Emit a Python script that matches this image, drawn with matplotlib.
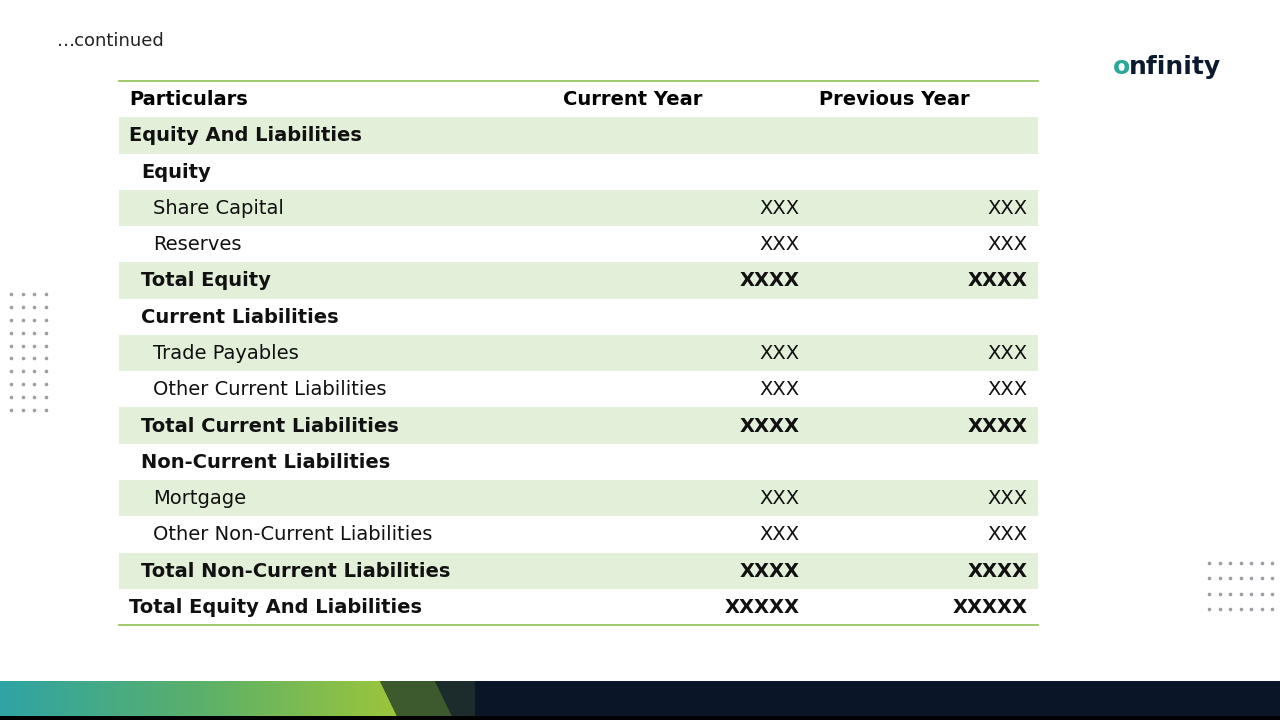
import matplotlib.pyplot as plt
from matplotlib.patches import Rectangle, Polygon
from matplotlib.colors import LinearSegmentedColormap
import numpy as np

plt.rcParams['font.family'] = ['DejaVu Sans']

headers = ["Particulars", "Current Year", "Previous Year"]
labels = ["Equity And Liabilities", "Equity", "Share Capital", "Reserves", "Total Equity",
          "Current Liabilities", "Trade Payables", "Other Current Liabilities",
          "Total Current Liabilities", "Non-Current Liabilities", "Mortgage",
          "Other Non-Current Liabilities", "Total Non-Current Liabilities",
          "Total Equity And Liabilities"]
current = ["", "", "XXX", "XXX", "XXXX", "", "XXX", "XXX", "XXXX", "", "XXX", "XXX", "XXXX", "XXXXX"]
previous = ["", "", "XXX", "XXX", "XXXX", "", "XXX", "XXX", "XXXX", "", "XXX", "XXX", "XXXX", "XXXXX"]
indent = [0, 1, 2, 2, 1, 1, 2, 2, 1, 1, 2, 2, 1, 0]
bold = [True, True, False, False, True, True, False, False, True, True, False, False, True, True]
shaded = [True, False, True, False, True, False, True, False, True, False, True, False, True, False]

fig = plt.figure(figsize=(12.8, 7.2), dpi=100)
ax = fig.add_axes([0, 0, 1, 1])
ax.set_xlim(0, 1280)
ax.set_ylim(720, 0)
ax.axis('off')

ax.text(57, 41, "…continued", fontsize=13, va='center', color='#222222')

left, right, top, rh = 119, 1038, 81, 36.27
green_line = '#8cc152'
fill = '#e2f0d9'
fs = 14
ax.plot([left, right], [top, top], color=green_line, lw=1.2)
y = top + rh / 2 + 0.5
ax.text(129, y, headers[0], fontsize=fs, fontweight='bold', va='center')
ax.text(563, y, headers[1], fontsize=fs, fontweight='bold', va='center')
ax.text(819, y, headers[2], fontsize=fs, fontweight='bold', va='center')

for i, lab in enumerate(labels):
    y0 = top + rh * (i + 1)
    if shaded[i]:
        ax.add_patch(Rectangle((left, y0), right - left, rh, color=fill, lw=0))
    yc = y0 + rh / 2 + 0.5
    w = 'bold' if bold[i] else 'normal'
    ax.text(129 + 12 * indent[i], yc, lab, fontsize=fs, fontweight=w, va='center', color='#111111')
    ax.text(800, yc, current[i], fontsize=fs, fontweight=w, va='center', ha='right', color='#111111')
    ax.text(1028, yc, previous[i], fontsize=fs, fontweight=w, va='center', ha='right', color='#111111')
ax.plot([left, right], [top + rh * 15, top + rh * 15], color=green_line, lw=1.2)

# logo
ax.text(1113, 67, "o", fontsize=18, fontweight='bold', color='#2aa89a', va='center')
ax.text(1129, 67, "nfinity", fontsize=18, fontweight='bold', color='#0b1a2e', va='center')

# dots
for cx in np.linspace(11, 46, 4):
    for cy in np.linspace(294, 410, 10):
        ax.plot(cx, cy, 'o', ms=1.6, color='#9aa0a6')
for cx in np.linspace(1209, 1272, 7):
    for cy in np.linspace(563, 609, 4):
        ax.plot(cx, cy, 'o', ms=1.6, color='#9aa0a6')

# bottom bar
bt, bb = 681, 716
ax.add_patch(Rectangle((0, bt), 1280, 720 - bt, color='#0a1628', lw=0))
grad = np.linspace(0, 1, 256).reshape(1, -1)
cmap = LinearSegmentedColormap.from_list('g', ['#2fa4a5', '#5bb06a', '#9cc63a'])
im = ax.imshow(grad, extent=(0, 400, bb, bt), cmap=cmap, aspect='auto', zorder=2)
clip = Polygon([(0, bt), (380, bt), (397, bb), (0, bb)], closed=True, transform=ax.transData)
im.set_clip_path(clip)
ax.add_patch(Polygon([(380, bt), (435, bt), (452, bb), (397, bb)], color='#3d5a2e', lw=0, zorder=3))
ax.add_patch(Polygon([(435, bt), (475, bt), (475, bb), (452, bb)], color='#1c2b2b', lw=0, zorder=3))
ax.add_patch(Rectangle((0, bb), 1280, 4, color='black', lw=0, zorder=4))

fig.savefig('out.png', dpi=100)
